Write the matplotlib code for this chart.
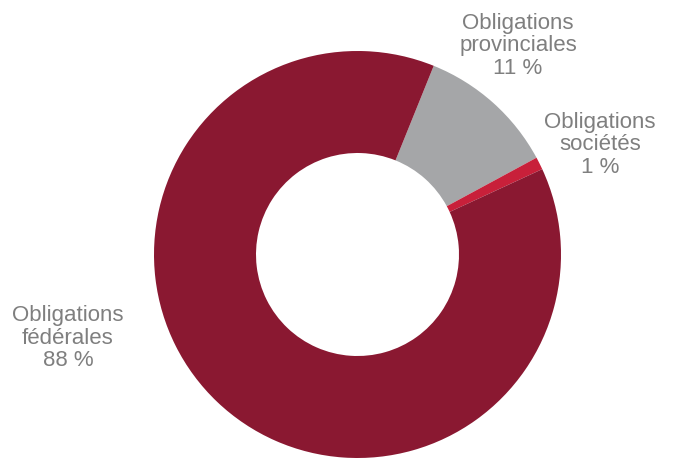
import matplotlib.pyplot as plt
import matplotlib

matplotlib.rcParams['font.family'] = ['Liberation Sans', 'DejaVu Sans']

categories = ['Obligations\nprovinciales', 'Obligations\nsociétés', 'Obligations\nfédérales']
shares = [11, 1, 88]
colors = ['#a5a6a8', '#c8203a', '#8a1831']

fig = plt.figure(figsize=(6.73, 4.58), dpi=100)
ax = fig.add_axes([0, 0, 1, 1])
ax.set_xlim(0, 673)
ax.set_ylim(0, 458)
ax.set_aspect('equal')
ax.axis('off')

ax.pie(shares, colors=colors, startangle=68, counterclock=False,
       center=(357.5, 203.5), radius=203.5, frame=True,
       wedgeprops=dict(width=102, linewidth=0))
ax.set_xlim(0, 673)
ax.set_ylim(0, 458)
ax.axis('off')

label_pos = [(518, 412), (600, 313), (68, 120)]
for name, v, (x, y) in zip(categories, shares, label_pos):
    ax.text(x, y, f'{name}\n{v} %', ha='center', va='center',
            fontsize=16, color='#7f7f7f', linespacing=1.1)

plt.savefig('out.png', dpi=100)
